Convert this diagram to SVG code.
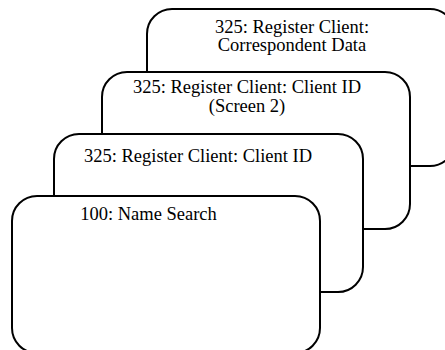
<svg xmlns="http://www.w3.org/2000/svg" width="445" height="350" viewBox="0 0 445 350">
<style>
.card{fill:#fff;stroke:#000;stroke-width:2}
.lbl{font-family:"Liberation Serif","Times New Roman",serif;font-size:18.5px;fill:#000;text-anchor:middle}
</style>
<rect width="445" height="350" fill="#fff"/>
<g id="node-correspondent-data">
<rect class="card" x="147" y="9" width="308" height="157" rx="25" ry="25"/>
<text class="lbl" x="292" y="32.5">325: Register Client:</text>
<text class="lbl" x="292" y="51">Correspondent Data</text>
</g>
<g id="node-client-id-screen2">
<rect class="card" x="102" y="72" width="308" height="157" rx="25" ry="25"/>
<text class="lbl" x="247" y="93">325: Register Client: Client ID</text>
<text class="lbl" x="247" y="111.5">(Screen 2)</text>
</g>
<g id="node-client-id">
<rect class="card" x="54" y="134" width="309" height="158" rx="25" ry="25"/>
<text class="lbl" x="198" y="162">325: Register Client: Client ID</text>
</g>
<g id="node-name-search">
<rect class="card" x="12" y="196" width="308" height="157" rx="25" ry="25"/>
<text class="lbl" x="148.5" y="220">100: Name Search</text>
</g>
<g id="connectors"></g>
</svg>
